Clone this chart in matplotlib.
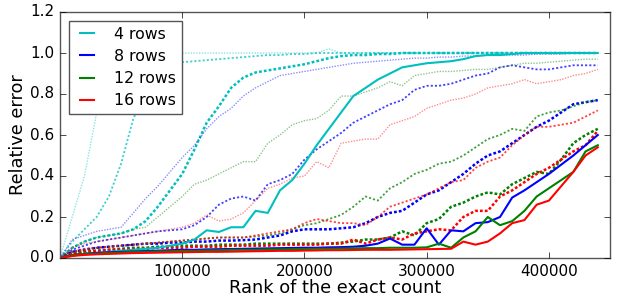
import numpy as np
import matplotlib
matplotlib.use("Agg")
import matplotlib.pyplot as plt
from matplotlib.ticker import FixedLocator, FormatStrFormatter

plt.style.use('classic')

# ranks of the exact count (x positions of samples)
ranks = np.arange(0, 450000, 10000)

labels = ['4 rows', '8 rows', '12 rows', '16 rows']
colors = ['c', 'b', 'g', 'r']

# --- 4 rows ---
c4_solid = [0, .01, .02, .025, .03, .035, .04, .045, .05, .06, .07, .09, .135, .127, .15, .15,
            .23, .22, .33, .38, .46, .55, .63, .71, .79, .83, .87, .9, .93, .94, .95, .955,
            .96, .97, .985, .99, .99, .995, 1.0, 1.0, 1.0, 1.0, 1.0, 1.0, 1.0]
c4_dense = [0, .05, .08, .1, .11, .12, .14, .18, .25, .33, .41, .53, .66, .74, .83, .88,
            .905, .915, .925, .935, .945, .96, .975, .985, .99, .99, .995, .995, 1.0, 1.0, 1.0, 1.0,
            1.0, 1.0, 1.0, 1.0, 1.0, 1.0, 1.0, 1.0, 1.0, 1.0, 1.0, 1.0, 1.0]
c4_mid = [0, .08, .14, .2, .3, .46, .68, .8, .88, .93, .955, .96, .965, .97, .975, .98,
          .985, .99, .99, .995, .995, 1.0, 1.0, 1.0, 1.0, 1.0, 1.0, 1.0, 1.0, 1.0, 1.0, 1.0,
          1.0, 1.0, 1.0, 1.0, 1.0, 1.0, 1.0, 1.0, 1.0, 1.0, 1.0, 1.0, 1.0]
c4_light = [0, .2, .4, .71, .9, .95, .97, .98, .99, 1.0, 1.0, 1.0, 1.0, 1.0, 1.0, 1.0,
            1.0, 1.0, 1.0, 1.0, 1.0, 1.0, 1.02, 1.0, 1.0, 1.0, 1.0, 1.0, 1.0, 1.0, 1.0, 1.0,
            1.0, 1.0, 1.0, 1.0, 1.0, 1.0, 1.0, 1.0, 1.0, 1.0, 1.0, 1.0, 1.0]

# --- 8 rows ---
b8_solid = [0, .015, .02, .025, .028, .03, .032, .034, .036, .038, .04, .04, .042, .043, .044, .045,
            .046, .047, .048, .049, .05, .05, .052, .053, .055, .06, .07, .095, .065, .065, .145, .065,
            .135, .13, .17, .175, .2, .295, .33, .37, .41, .455, .5, .55, .6]
b8_dense = [0, .03, .04, .05, .055, .06, .065, .07, .07, .075, .075, .08, .08, .085, .085, .087,
            .09, .1, .11, .13, .14, .14, .14, .145, .15, .17, .2, .22, .23, .27, .31, .33,
            .37, .41, .46, .5, .52, .56, .6, .64, .67, .71, .75, .76, .77]
b8_mid = [0, .04, .06, .08, .09, .1, .11, .12, .13, .135, .14, .16, .2, .26, .29, .3,
          .28, .36, .38, .41, .48, .53, .57, .61, .66, .69, .72, .75, .77, .82, .84, .84,
          .85, .87, .89, .9, .93, .94, .93, .92, .92, .93, .94, .94, .94]
b8_light = [0, .09, .11, .13, .14, .15, .22, .29, .35, .42, .49, .55, .63, .69, .73, .79,
            .83, .86, .89, .9, .91, .92, .93, .94, .95, .955, .96, .965, .97, .975, .975, .98,
            .98, .985, .985, .99, .99, .99, .99, .995, .995, .995, 1.0, 1.0, 1.0]

# --- 12 rows ---
g12_solid = [0, .015, .02, .022, .025, .027, .03, .03, .032, .033, .035, .035, .037, .038, .04, .04,
             .04, .042, .042, .043, .044, .045, .045, .046, .047, .048, .048, .05, .05, .05, .052, .07,
             .05, .1, .13, .2, .16, .18, .23, .3, .34, .38, .42, .52, .55]
g12_dense = [0, .02, .03, .035, .04, .045, .05, .05, .055, .055, .06, .06, .06, .065, .065, .065,
             .07, .07, .07, .07, .07, .07, .07, .075, .08, .09, .09, .1, .13, .11, .17, .19,
             .25, .27, .3, .32, .31, .36, .39, .42, .41, .48, .56, .6, .63]
g12_mid = [0, .03, .04, .05, .055, .06, .065, .07, .075, .08, .085, .09, .095, .1, .1, .1,
           .105, .11, .12, .14, .16, .17, .19, .21, .25, .3, .28, .34, .37, .41, .43, .46,
           .47, .5, .54, .58, .6, .63, .62, .69, .71, .72, .74, .76, .77]
g12_light = [0, .05, .08, .1, .11, .12, .14, .15, .2, .25, .3, .36, .38, .41, .44, .47,
             .47, .56, .6, .65, .67, .68, .72, .79, .79, .81, .83, .86, .84, .89, .9, .91,
             .91, .915, .92, .92, .93, .94, .95, .95, .955, .96, .965, .97, .97]

# --- 16 rows ---
r16_solid = [0, .01, .015, .018, .02, .022, .024, .025, .026, .027, .028, .029, .03, .03, .031, .032,
             .033, .034, .035, .035, .036, .037, .038, .038, .039, .04, .04, .04, .041, .042, .043, .044,
             .045, .08, .065, .08, .12, .17, .185, .26, .28, .35, .42, .5, .54]
r16_dense = [0, .02, .03, .035, .04, .04, .045, .045, .05, .05, .05, .055, .055, .055, .06, .06,
             .06, .06, .065, .065, .065, .065, .07, .07, .09, .07, .09, .1, .09, .12, .13, .14,
             .135, .2, .23, .23, .3, .33, .37, .41, .44, .48, .52, .55, .62]
r16_mid = [0, .03, .045, .05, .055, .06, .065, .07, .075, .08, .085, .09, .095, .1, .1, .1,
           .11, .12, .13, .14, .17, .19, .18, .17, .17, .16, .2, .25, .27, .29, .31, .34,
           .37, .38, .44, .47, .49, .55, .6, .64, .64, .65, .66, .69, .72]
r16_light = [0, .05, .07, .08, .09, .1, .11, .12, .13, .14, .15, .17, .21, .18, .19, .22,
             .28, .34, .36, .39, .4, .47, .44, .56, .57, .58, .58, .65, .67, .69, .73, .75,
             .77, .78, .8, .83, .84, .85, .87, .85, .86, .87, .89, .9, .92]

series = [
    (c4_solid, c4_dense, c4_mid, c4_light),
    (b8_solid, b8_dense, b8_mid, b8_light),
    (g12_solid, g12_dense, g12_mid, g12_light),
    (r16_solid, r16_dense, r16_mid, r16_light),
]

fig = plt.figure(figsize=(6.24, 3.01), dpi=100, facecolor='white')
ax = fig.add_axes([60/624, 1-258/301, 550/624, 246/301])

handles = []
for (solid, dense, mid, light), col, lab in zip(series, colors, labels):
    ax.plot(ranks, light, color=col, lw=1.0, alpha=0.45, linestyle=(0, (1, 1)))
    ax.plot(ranks, mid, color=col, lw=1.3, alpha=0.75, linestyle=(0, (1.5, 1.5)))
    ax.plot(ranks, dense, color=col, lw=1.8, linestyle=(0, (2, 1.5)))
for (solid, dense, mid, light), col, lab in zip(series, colors, labels):
    h, = ax.plot(ranks, solid, color=col, lw=1.5, label=lab)
    handles.append(h)

ax.set_xlim(0, 450000)
ax.set_ylim(0, 1.2)
ax.xaxis.set_major_locator(FixedLocator([100000, 200000, 300000, 400000]))
ax.xaxis.set_major_formatter(FormatStrFormatter('%d'))
ax.set_yticks(np.arange(0, 1.21, 0.2))
ax.yaxis.set_major_formatter(FormatStrFormatter('%.1f'))
ax.tick_params(labelsize=11)
for sp in ax.spines.values():
    sp.set_edgecolor('#555555')
ax.set_xlabel('Rank of the exact count', fontsize=12.8, labelpad=0.5)
ax.set_ylabel('Relative error', fontsize=12.8, labelpad=2)

leg = ax.legend(handles=handles, loc='upper left', fontsize=11.3, handlelength=1.5,
                handletextpad=1.0, borderaxespad=0.55, labelspacing=0.45, frameon=True)
leg.get_frame().set_edgecolor('#555555')

fig.savefig('out.png', dpi=100, facecolor='white')
